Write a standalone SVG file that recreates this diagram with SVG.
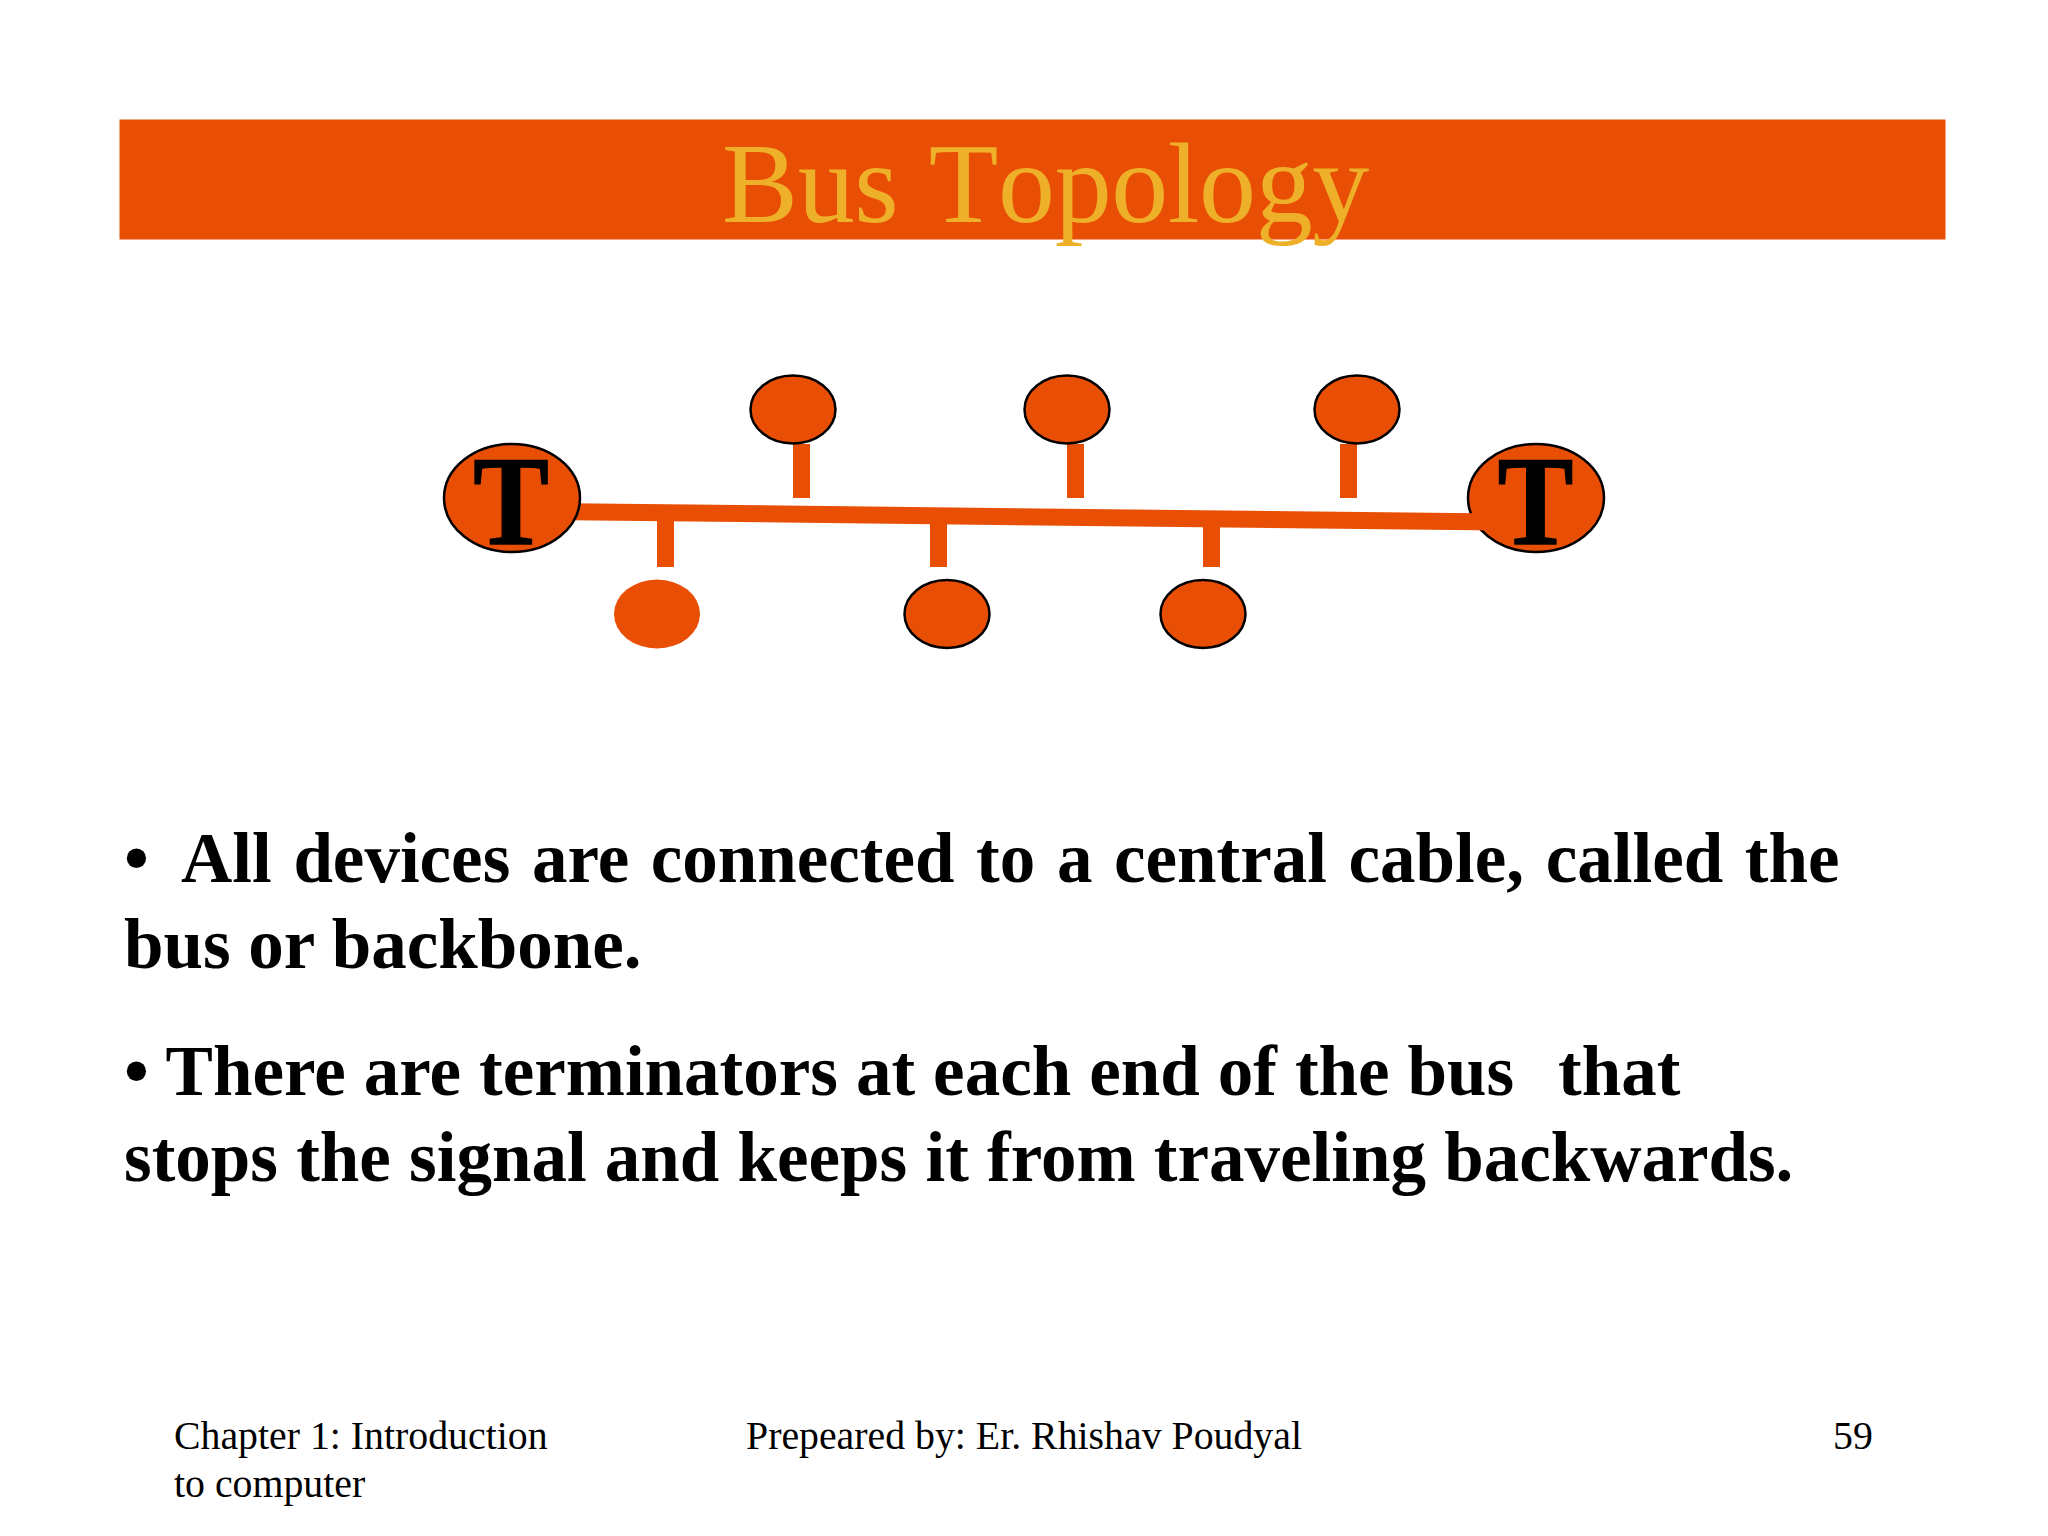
<svg xmlns="http://www.w3.org/2000/svg" width="2048" height="1536" viewBox="0 0 2048 1536">
<style>
.o{fill:#e84e04}
.n{fill:#e84e04;stroke:#000;stroke-width:2.5}
.t{font-family:"Liberation Serif","Times New Roman",serif}
.b{font-weight:bold;font-size:71px;fill:#000}
.f{font-size:39.800px;fill:#000}
.T{font-weight:bold;font-size:126px;fill:#000;stroke:#000;stroke-width:1.500;text-anchor:middle}
</style>
<rect width="2048" height="1536" fill="#fff"/>
<g id="header"><rect class="o" x="119.500" y="119.500" width="1826" height="120"/>
<text class="t" x="722" y="222" font-size="114" fill="#efb029" style="font-kerning:none" word-spacing="2.500" letter-spacing="-0.400">Bus Topology</text></g>
<g id="term-right"><ellipse class="n" cx="1536" cy="498" rx="68" ry="54"/><text class="t T" transform="translate(1535.500 544) scale(.9 1.01)">T</text></g>
<g id="connectors">
<polygon class="o" points="570,503.200 1500,513.500 1500,530.500 570,520.200"/>
<rect class="o" x="793" y="444" width="17" height="54"/>
<rect class="o" x="1067" y="444" width="17" height="54"/>
<rect class="o" x="1340" y="444" width="17" height="54"/>
<rect class="o" x="657" y="515" width="17" height="52"/>
<rect class="o" x="930" y="515" width="17" height="52"/>
<rect class="o" x="1203" y="515" width="17" height="52"/>
</g>
<g id="term-left"><ellipse class="n" cx="512" cy="498" rx="68" ry="54"/><text class="t T" transform="translate(511 544) scale(.9 1.01)">T</text></g>
<g id="node-t1"><ellipse class="n" cx="793" cy="409.500" rx="42.500" ry="34"/></g>
<g id="node-t2"><ellipse class="n" cx="1067" cy="409.500" rx="42.500" ry="34"/></g>
<g id="node-t3"><ellipse class="n" cx="1357" cy="409.500" rx="42.500" ry="34"/></g>
<g id="node-b1"><ellipse class="o" cx="657" cy="614" rx="43" ry="34.500"/></g>
<g id="node-b2"><ellipse class="n" cx="947" cy="614" rx="42.500" ry="34"/></g>
<g id="node-b3"><ellipse class="n" cx="1203" cy="614" rx="42.500" ry="34"/></g>
<g id="body">
<text class="t b" y="882"><tspan x="124">•</tspan><tspan x="181" word-spacing="3.900">All devices are connected to a central cable, called the</tspan></text>
<text class="t b" x="124" y="967.500">bus or backbone.</text>
<text class="t b" y="1095"><tspan x="124" word-spacing="0.300">• There are terminators at each end of the bus</tspan><tspan x="1558">that</tspan></text>
<text class="t b" x="124" y="1181" word-spacing="0.500">stops the signal and keeps it from traveling backwards.</text>
</g>
<g id="footer">
<text class="t f" x="174" y="1449">Chapter 1: Introduction</text>
<text class="t f" x="174" y="1497">to computer</text>
<text class="t f" x="746" y="1449">Prepeared by: Er. Rhishav Poudyal</text>
<text class="t f" x="1833" y="1449">59</text>
</g>
</svg>
